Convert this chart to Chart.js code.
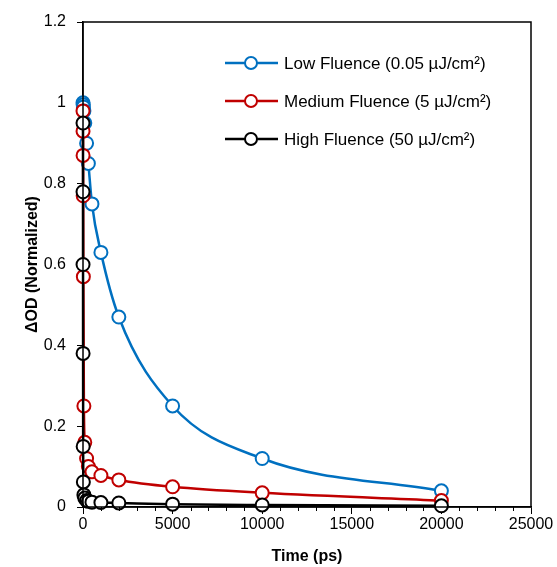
<!DOCTYPE html>
<html>
<head>
<meta charset="utf-8">
<script src="https://cdn.jsdelivr.net/npm/chart.js@4"></script>
<style>
  html, body { margin: 0; padding: 0; background: #fff; }
  canvas { display: block; }
</style>
</head>
<body>
<canvas id="decay-chart" width="557" height="567"></canvas>
<script>
// Transient absorption decay, normalised ΔOD vs delay time
const lowTime = [0, 10, 20, 50, 100, 200, 300, 500, 1000, 2000, 5000, 10000, 20000];
const lowValues = [1.0, 0.995, 0.99, 0.98, 0.95, 0.90, 0.85, 0.75, 0.63, 0.47, 0.25, 0.12, 0.04];

const mediumTime = [0, 2, 5, 10, 20, 50, 100, 200, 300, 500, 1000, 2000, 5000, 10000, 20000];
const mediumValues = [0.98, 0.93, 0.87, 0.77, 0.57, 0.25, 0.16, 0.12, 0.10, 0.087, 0.078, 0.067, 0.05, 0.035, 0.016];

const highTime = [0, 1, 2, 5, 10, 20, 50, 100, 200, 300, 500, 1000, 2000, 5000, 10000, 20000];
const highValues = [0.95, 0.78, 0.60, 0.38, 0.15, 0.062, 0.03, 0.022, 0.016, 0.014, 0.012, 0.011, 0.01, 0.007, 0.005, 0.003];

const seriesLabels = ['Low Fluence (0.05 µJ/cm²)', 'Medium Fluence (5 µJ/cm²)', 'High Fluence (50 µJ/cm²)'];
const seriesColors = ['#0070C0', '#C00000', '#000000'];

const FONT = "'Liberation Sans', Arial, sans-serif";

function toPoints(xs, ys) {
    return xs.map((x, i) => ({ x, y: ys[i] }));
}

function makeDataset(label, color, points, order) {
    return {
        label,
        data: points,
        showLine: true,
        borderColor: color,
        backgroundColor: '#fff',
        borderWidth: 2.5,
        pointRadius: 6.5,
        pointBorderWidth: 2,
        pointBorderColor: color,
        pointBackgroundColor: '#fff',
        cubicInterpolationMode: 'monotone',
        clip: false,
        order
    };
}

// plot frame + minor x ticks
const framePlugin = {
    id: 'frame',
    afterDraw(chart) {
        const { ctx, chartArea: a } = chart;
        const xs = chart.scales.x;
        ctx.save();
        ctx.strokeStyle = '#000';
        ctx.lineWidth = 1.5;
        ctx.strokeRect(a.left, a.top, a.right - a.left, a.bottom - a.top);
        ctx.lineWidth = 1;
        for (let v = 1000; v < 25000; v += 1000) {
            if (v % 5000 === 0) continue;
            const px = Math.round(xs.getPixelForValue(v)) + 0.5;
            ctx.beginPath();
            ctx.moveTo(px, a.bottom);
            ctx.lineTo(px, a.bottom + 4);
            ctx.stroke();
        }
        ctx.restore();
    }
};

// Excel-style legend: line with marker, inside the plot
const legendPlugin = {
    id: 'lineLegend',
    afterDraw(chart) {
        const { ctx } = chart;
        const rows = [63, 101, 139];
        ctx.save();
        ctx.font = `17px ${FONT}`;
        ctx.textBaseline = 'middle';
        ctx.textAlign = 'left';
        chart.data.datasets.forEach((ds, i) => {
            const y = rows[i];
            ctx.strokeStyle = ds.borderColor;
            ctx.lineWidth = 2.5;
            ctx.beginPath();
            ctx.moveTo(225, y);
            ctx.lineTo(278, y);
            ctx.stroke();
            ctx.beginPath();
            ctx.arc(251, y, 6, 0, Math.PI * 2);
            ctx.fillStyle = '#fff';
            ctx.fill();
            ctx.lineWidth = 2;
            ctx.stroke();
            ctx.fillStyle = '#000';
            ctx.fillText(ds.label, 284, y + 1);
        });
        ctx.restore();
    }
};

const ctx = document.getElementById('decay-chart').getContext('2d');

new Chart(ctx, {
    type: 'scatter',
    data: {
        datasets: [
            makeDataset(seriesLabels[0], seriesColors[0], toPoints(lowTime, lowValues), 2),
            makeDataset(seriesLabels[1], seriesColors[1], toPoints(mediumTime, mediumValues), 1),
            makeDataset(seriesLabels[2], seriesColors[2], toPoints(highTime, highValues), 0)
        ]
    },
    options: {
        responsive: false,
        animation: false,
        layout: { padding: { left: 0, right: 26, top: 22, bottom: 0 } },
        plugins: {
            legend: { display: false },
            tooltip: { enabled: false }
        },
        scales: {
            x: {
                type: 'linear',
                min: 0,
                max: 25000,
                afterFit: (s) => { s.height = 60; },
                ticks: {
                    stepSize: 5000,
                    color: '#000',
                    padding: 1,
                    maxRotation: 0,
                    font: { family: FONT, size: 16 },
                    callback: (v) => String(v)
                },
                grid: { display: true, drawOnChartArea: false, drawTicks: true, tickLength: 7, color: '#000', lineWidth: 1 },
                border: { display: true, color: '#000', width: 1.5 },
                title: {
                    display: true,
                    text: 'Time (ps)',
                    color: '#000',
                    padding: { top: 0, bottom: 1 },
                    font: { family: FONT, size: 16, weight: 'bold' }
                }
            },
            y: {
                min: 0,
                max: 1.2,
                afterFit: (s) => { s.width = 83; },
                ticks: {
                    stepSize: 0.2,
                    color: '#000',
                    padding: 11,
                    font: { family: FONT, size: 16 },
                    callback: (v) => String(+v.toFixed(1))
                },
                grid: { display: true, drawOnChartArea: false, drawTicks: true, tickLength: 6, color: '#000', lineWidth: 1 },
                border: { display: true, color: '#000', width: 1.5 },
                title: {
                    display: true,
                    text: 'ΔOD (Normalized)',
                    color: '#000',
                    padding: { top: 23, bottom: 0 },
                    font: { family: FONT, size: 16, weight: 'bold' }
                }
            }
        }
    },
    plugins: [framePlugin, legendPlugin]
});
</script>
</body>
</html>
